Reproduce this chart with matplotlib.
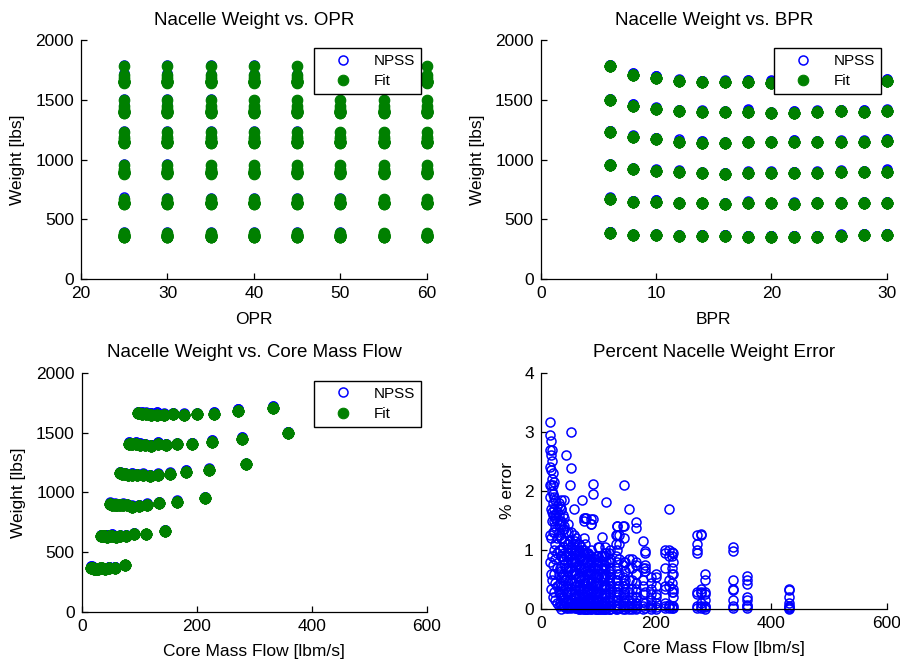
import matplotlib
matplotlib.use('Agg')
import matplotlib.pyplot as plt

plt.rcParams['font.family'] = ['Liberation Sans', 'DejaVu Sans']

# design grid
opr = [25, 30, 35, 40, 45, 50, 55, 60]
bpr = [6, 8, 10, 12, 14, 16, 18, 20, 22, 24, 26, 28, 30]

# fit nacelle weight [lbs], one row per engine size, one column per BPR
w_fit = [
    [390, 370, 370, 362, 365, 365, 357, 357, 357, 357, 365, 370, 370],
    [674, 649, 649, 635, 635, 630, 635, 635, 630, 635, 635, 635, 635],
    [953, 919, 908, 897, 886, 880, 891, 891, 891, 891, 897, 894, 900],
    [1234, 1187, 1173, 1150, 1142, 1136, 1145, 1145, 1145, 1145, 1150, 1150, 1159],
    [1499, 1448, 1423, 1407, 1401, 1396, 1401, 1387, 1393, 1398, 1407, 1401, 1407],
    [1786, 1708, 1680, 1657, 1652, 1646, 1652, 1643, 1650, 1650, 1655, 1658, 1660],
]

# core mass flow [lbm/s], same layout
core_flow = [
    [75, 58, 47, 40, 35, 31, 28, 25, 23, 21, 20, 18, 16],
    [145, 112, 91, 77, 67, 59, 53, 48, 44, 41, 38, 36, 33],
    [215, 166, 135, 114, 99, 88, 79, 72, 66, 61, 57, 53, 50],
    [285, 222, 181, 153, 133, 118, 106, 96, 88, 81, 75, 70, 66],
    [358, 278, 227, 192, 166, 147, 132, 120, 110, 101, 94, 88, 82],
    [430, 333, 271, 230, 200, 177, 158, 143, 131, 121, 112, 105, 98],
]

# percent error NPSS vs fit, per size: 13 BPR columns x 8 OPR points
err_lvl1 = [
    [1.55, 1.5, 1.2, 0.95, 0.7, 0.45, 0.2, 0.05],
    [1.25, 1.1, 0.95, 0.8, 0.6, 0.35, 0.2, 0.05],
    [1.45, 1.3, 1.1, 0.9, 0.7, 0.4, 0.15, 0.02],
    [1.85, 1.55, 1.35, 1.15, 0.85, 0.5, 0.2, 0.05],
    [1.85, 1.7, 1.5, 1.2, 0.9, 0.55, 0.25, 0.0],
    [1.8, 1.6, 1.45, 1.3, 1.0, 0.6, 0.3, 0.05],
    [1.75, 1.65, 1.5, 1.2, 0.95, 0.7, 0.4, 0.1],
    [1.85, 1.6, 1.55, 1.4, 1.1, 0.85, 0.45, 0.15],
    [2.15, 1.9, 1.7, 1.5, 1.3, 1.0, 0.6, 0.3],
    [2.3, 2.1, 1.95, 1.8, 1.6, 1.3, 0.75, 0.2],
    [2.7, 2.5, 2.2, 2.0, 1.65, 1.5, 0.9, 0.5],
    [2.85, 2.6, 2.35, 2.1, 1.7, 1.2, 0.6, 0.35],
    [3.17, 2.95, 2.7, 2.4, 2.1, 1.9, 1.25, 0.8],
]
err_lvl2 = [
    [2.1, 1.4, 1.2, 0.8, 0.45, 0.3, 0.15, 0.05],
    [1.05, 0.9, 0.7, 0.55, 0.35, 0.2, 0.1, 0.02],
    [2.12, 1.95, 1.52, 0.8, 0.6, 0.35, 0.15, 0.03],
    [1.55, 1.1, 0.9, 0.7, 0.45, 0.25, 0.1, 0.0],
    [1.0, 0.85, 0.7, 0.55, 0.4, 0.25, 0.1, 0.02],
    [1.15, 0.95, 0.8, 0.6, 0.4, 0.2, 0.08, 0.02],
    [3.0, 2.39, 1.0, 0.8, 0.6, 0.35, 0.15, 0.05],
    [1.1, 0.95, 0.8, 0.65, 0.45, 0.3, 0.12, 0.03],
    [2.61, 1.3, 0.9, 0.7, 0.5, 0.3, 0.12, 0.02],
    [1.4, 1.15, 0.95, 0.75, 0.55, 0.35, 0.15, 0.05],
    [1.6, 1.35, 1.05, 0.85, 0.6, 0.4, 0.2, 0.05],
    [1.7, 1.45, 1.2, 0.9, 0.65, 0.4, 0.2, 0.08],
    [1.75, 1.5, 1.25, 1.0, 0.7, 0.45, 0.25, 0.1],
]
err_lvl3 = [
    [1.0, 0.95, 0.7, 0.4, 0.35, 0.1, 0.05, 0.02],
    [1.47, 1.37, 0.8, 0.6, 0.35, 0.2, 0.1, 0.02],
    [1.25, 1.1, 0.85, 0.6, 0.4, 0.25, 0.1, 0.02],
    [1.82, 0.95, 0.8, 0.6, 0.4, 0.25, 0.1, 0.0],
    [1.05, 0.9, 0.75, 0.55, 0.35, 0.2, 0.08, 0.0],
    [1.45, 1.0, 0.85, 0.65, 0.45, 0.25, 0.1, 0.02],
    [1.55, 0.95, 0.8, 0.6, 0.4, 0.2, 0.08, 0.0],
    [1.85, 1.0, 0.85, 0.65, 0.45, 0.25, 0.1, 0.0],
    [1.1, 0.9, 0.75, 0.55, 0.35, 0.2, 0.05, 0.0],
    [1.2, 1.0, 0.8, 0.6, 0.4, 0.2, 0.08, 0.02],
    [1.69, 1.05, 0.85, 0.65, 0.45, 0.25, 0.1, 0.03],
    [1.3, 1.05, 0.85, 0.65, 0.45, 0.25, 0.1, 0.02],
    [2.1, 1.15, 0.9, 0.7, 0.5, 0.3, 0.12, 0.03],
]
err_lvl4 = [
    [0.6, 0.5, 0.3, 0.25, 0.15, 0.05, 0.03, 0.0],
    [1.7, 1.0, 0.9, 0.5, 0.4, 0.08, 0.05, 0.02],
    [0.98, 0.95, 0.75, 0.7, 0.65, 0.3, 0.1, 0.02],
    [1.7, 0.85, 0.7, 0.5, 0.3, 0.15, 0.05, 0.0],
    [1.4, 1.0, 0.8, 0.6, 0.4, 0.2, 0.08, 0.02],
    [0.95, 0.8, 0.65, 0.5, 0.35, 0.2, 0.05, 0.0],
    [1.22, 0.9, 0.7, 0.55, 0.35, 0.2, 0.08, 0.0],
    [0.9, 0.75, 0.6, 0.45, 0.3, 0.15, 0.05, 0.0],
    [1.52, 1.45, 0.8, 0.6, 0.4, 0.2, 0.08, 0.0],
    [0.95, 0.8, 0.65, 0.5, 0.3, 0.15, 0.05, 0.0],
    [1.0, 0.85, 0.7, 0.5, 0.35, 0.2, 0.05, 0.0],
    [1.05, 0.9, 0.7, 0.55, 0.35, 0.2, 0.08, 0.02],
    [1.1, 0.95, 0.75, 0.55, 0.4, 0.2, 0.08, 0.0],
]
err_lvl5 = [
    [0.57, 0.5, 0.42, 0.2, 0.15, 0.08, 0.05, 0.02],
    [1.28, 1.25, 0.35, 0.3, 0.27, 0.1, 0.05, 0.02],
    [0.97, 0.9, 0.7, 0.6, 0.45, 0.3, 0.05, 0.02],
    [0.55, 0.45, 0.35, 0.25, 0.15, 0.08, 0.03, 0.0],
    [0.75, 0.6, 0.45, 0.3, 0.2, 0.1, 0.05, 0.0],
    [0.8, 0.65, 0.5, 0.35, 0.2, 0.1, 0.03, 0.0],
    [1.4, 1.25, 0.7, 0.5, 0.3, 0.15, 0.05, 0.0],
    [0.85, 0.7, 0.55, 0.4, 0.25, 0.12, 0.05, 0.0],
    [0.9, 0.75, 0.55, 0.4, 0.25, 0.12, 0.05, 0.0],
    [1.05, 0.8, 0.6, 0.45, 0.3, 0.15, 0.05, 0.0],
    [0.85, 0.7, 0.55, 0.4, 0.25, 0.1, 0.03, 0.0],
    [0.9, 0.75, 0.6, 0.45, 0.3, 0.15, 0.05, 0.0],
    [0.95, 0.8, 0.6, 0.45, 0.3, 0.15, 0.05, 0.0],
]
err_lvl6 = [
    [0.35, 0.32, 0.2, 0.1, 0.05, 0.03, 0.02, 0.0],
    [1.05, 0.98, 0.5, 0.35, 0.32, 0.15, 0.05, 0.02],
    [1.25, 1.1, 1.0, 0.95, 0.3, 0.25, 0.05, 0.02],
    [0.95, 0.8, 0.6, 0.35, 0.3, 0.2, 0.05, 0.02],
    [0.6, 0.55, 0.4, 0.25, 0.2, 0.1, 0.03, 0.0],
    [1.15, 0.7, 0.5, 0.4, 0.25, 0.12, 0.05, 0.0],
    [0.85, 0.7, 0.5, 0.35, 0.2, 0.1, 0.03, 0.0],
    [1.4, 0.75, 0.55, 0.4, 0.25, 0.12, 0.05, 0.0],
    [1.25, 1.1, 0.9, 0.5, 0.3, 0.15, 0.05, 0.0],
    [1.0, 0.8, 0.6, 0.45, 0.3, 0.15, 0.05, 0.0],
    [0.95, 0.75, 0.6, 0.4, 0.25, 0.12, 0.05, 0.0],
    [0.9, 0.7, 0.55, 0.4, 0.25, 0.12, 0.03, 0.0],
    [0.9, 0.75, 0.55, 0.4, 0.25, 0.12, 0.05, 0.0],
]
err_all = [err_lvl1, err_lvl2, err_lvl3, err_lvl4, err_lvl5, err_lvl6]

# flatten the grid
x_opr, x_bpr, x_flow, y_fit, y_npss, y_err = [], [], [], [], [], []
for lv in range(len(w_fit)):
    for j in range(len(bpr)):
        for k in range(len(opr)):
            e = err_all[lv][j][k]
            x_opr.append(opr[k])
            x_bpr.append(bpr[j])
            x_flow.append(core_flow[lv][j])
            y_fit.append(w_fit[lv][j])
            y_npss.append(w_fit[lv][j] * (1 + e / 100.0))
            y_err.append(e)

BLUE = '#0000ff'
GREEN = '#008000'
FS = 12.5

fig = plt.figure(figsize=(9, 6.65), dpi=100)
ax1 = fig.add_axes([0.0900, 0.5800, 0.3844, 0.3597])
ax2 = fig.add_axes([0.6008, 0.5800, 0.3844, 0.3597])
ax3 = fig.add_axes([0.0908, 0.0797, 0.3837, 0.3598])
ax4 = fig.add_axes([0.6008, 0.0838, 0.3844, 0.3558])


def style(ax, title, xlabel, ylabel, ylab_x):
    for s in ['top', 'right']:
        ax.spines[s].set_visible(False)
    for s in ['left', 'bottom']:
        ax.spines[s].set_linewidth(0.9)
    ax.tick_params(direction='in', length=4, width=0.9, labelsize=FS,
                   top=False, right=False, pad=5)
    ax.set_title(title, fontsize=13.5, pad=11)
    ax.set_xlabel(xlabel, fontsize=FS)
    ax.set_ylabel(ylabel, fontsize=FS)
    ax.xaxis.set_label_coords(0.5, -0.135)
    ax.yaxis.set_label_coords(ylab_x, 0.5)


def pair(ax, x):
    ax.plot(x, y_npss, 'o', ls='none', mfc='none', mec=BLUE, ms=6.5, mew=1.1,
            label='NPSS', clip_on=False)
    ax.plot(x, y_fit, 'o', ls='none', color=GREEN, mec=GREEN, ms=7.6, mew=0.8,
            label='Fit', clip_on=False)
    leg = ax.legend(loc='upper right', bbox_to_anchor=(0.983, 0.967),
                    borderaxespad=0, fontsize=11, fancybox=False,
                    edgecolor='black', framealpha=1, numpoints=1,
                    handlelength=3.0, handletextpad=0.5, borderpad=0.4,
                    labelspacing=0.4)
    leg.get_frame().set_linewidth(1.0)


# top left
pair(ax1, x_opr)
ax1.set_xlim(20, 60)
ax1.set_ylim(0, 2000)
ax1.set_xticks([20, 30, 40, 50, 60])
ax1.set_yticks([0, 500, 1000, 1500, 2000])
style(ax1, 'Nacelle Weight vs. OPR', 'OPR', 'Weight [lbs]', -0.162)

# top right
pair(ax2, x_bpr)
ax2.set_xlim(0, 30)
ax2.set_ylim(0, 2000)
ax2.set_xticks([0, 10, 20, 30])
ax2.set_yticks([0, 500, 1000, 1500, 2000])
style(ax2, 'Nacelle Weight vs. BPR', 'BPR', 'Weight [lbs]', -0.162)

# bottom left
pair(ax3, x_flow)
ax3.set_xlim(0, 600)
ax3.set_ylim(0, 2000)
ax3.set_xticks([0, 200, 400, 600])
ax3.set_yticks([0, 500, 1000, 1500, 2000])
style(ax3, 'Nacelle Weight vs. Core Mass Flow', 'Core Mass Flow [lbm/s]',
      'Weight [lbs]', -0.162)

# bottom right
ax4.plot(x_flow, y_err, 'o', ls='none', mfc='none', mec=BLUE, ms=6.5, mew=1.1,
         clip_on=False)
ax4.set_xlim(0, 600)
ax4.set_ylim(0, 4)
ax4.set_xticks([0, 200, 400, 600])
ax4.set_yticks([0, 1, 2, 3, 4])
style(ax4, 'Percent Nacelle Weight Error', 'Core Mass Flow [lbm/s]',
      '% error', -0.075)

fig.savefig('out.png', dpi=100)
